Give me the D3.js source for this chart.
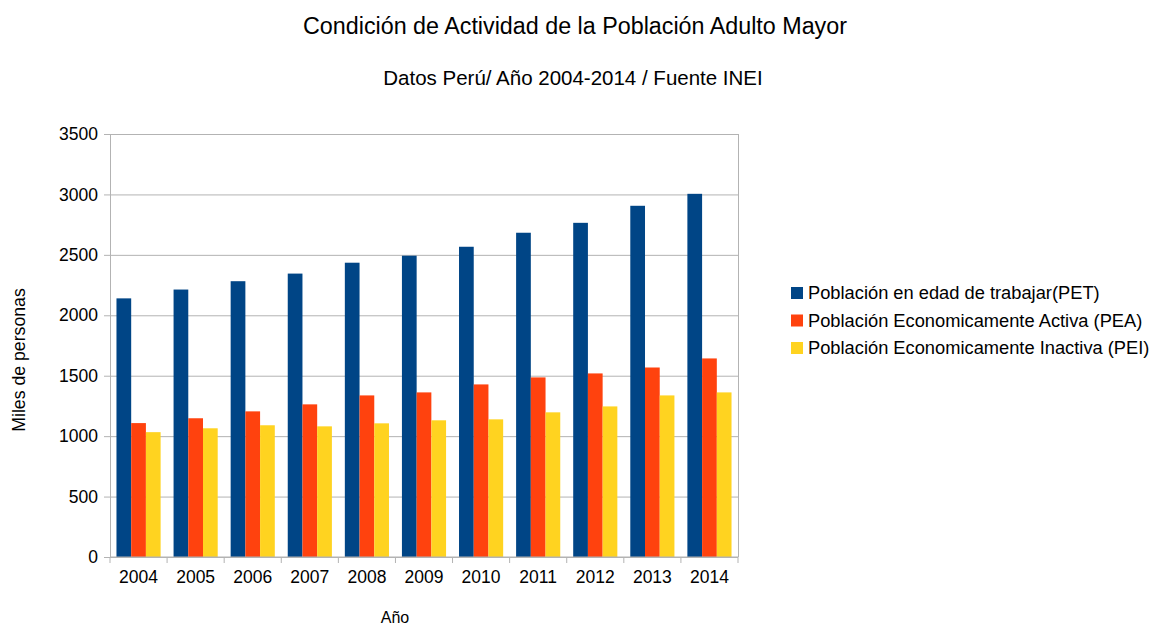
<!DOCTYPE html>
<html>
<head>
<meta charset="utf-8">
<script src="https://cdn.jsdelivr.net/npm/d3@7/dist/d3.min.js"></script>
<style>
  body { margin: 0; background: #fff; }
  text { font-family: "Liberation Sans", Arial, sans-serif; fill: #000; }
  .axis path, .axis line { stroke: #b3b3b3; }
  .grid path { display: none; }
</style>
</head>
<body>
<div id="chart"></div>
<script>
// data
var years = ["2004","2005","2006","2007","2008","2009","2010","2011","2012","2013","2014"];
var seriesNames = ["Población en edad de trabajar(PET)", "Población Economicamente Activa (PEA)", "Población Economicamente Inactiva (PEI)"];
var pet = [2140, 2213, 2282, 2345, 2435, 2493, 2567, 2683, 2765, 2906, 3005];
var pea = [1108, 1148, 1205, 1263, 1337, 1362, 1428, 1486, 1519, 1568, 1643];
var pei = [1033, 1065, 1090, 1081, 1106, 1131, 1139, 1197, 1246, 1337, 1362];
var yTicks = [0, 500, 1000, 1500, 2000, 2500, 3000, 3500];
var colors = ["#004586", "#ff420e", "#ffd320"];

var width = 1151, height = 627;
var margin = {top: 134, left: 110, right: 413, bottom: 70};
var w = width - margin.left - margin.right,
    h = height - margin.top - margin.bottom;

var svg = d3.select("#chart").append("svg")
    .attr("width", width)
    .attr("height", height);

var data = years.map(function(y, i) {
  return {year: y, values: [pet[i], pea[i], pei[i]]};
});

var x = d3.scaleBand().domain(years).range([0, w]).paddingInner(0).paddingOuter(0);
var x1 = d3.scaleBand().domain([0, 1, 2]).range([0, x.bandwidth()]).paddingOuter(0.44).paddingInner(0);
var y = d3.scaleLinear().domain([0, 3500]).range([h, 0]);

var g = svg.append("g").attr("transform", "translate(" + margin.left + "," + margin.top + ")");

//grid
g.append("g")
    .attr("class", "grid")
    .call(d3.axisLeft(y).tickValues(yTicks).tickSize(-w).tickFormat(""))
  .selectAll("line").attr("stroke", "#b3b3b3");

//right border line of plot
g.append("line")
    .attr("x1", w + 0.5).attr("x2", w + 0.5)
    .attr("y1", 0).attr("y2", h)
    .attr("stroke", "#b3b3b3");

//bars
g.selectAll(".year")
    .data(data)
  .enter().append("g")
    .attr("class", "year")
    .attr("transform", function(d) { return "translate(" + x(d.year) + ",0)"; })
  .selectAll("rect")
    .data(function(d) { return d.values; })
  .enter().append("rect")
    .attr("x", function(d, i) { return x1(i); })
    .attr("width", x1.bandwidth())
    .attr("y", function(d) { return y(d); })
    .attr("height", function(d) { return h - y(d); })
    .attr("fill", function(d, i) { return colors[i]; });

//y axis
var yAxis = g.append("g")
    .attr("class", "axis")
    .call(d3.axisLeft(y).tickValues(yTicks).tickFormat(d3.format("d")).tickSize(6).tickPadding(6));
yAxis.selectAll("text").style("font-size", "17.5px");

//x axis
var xTickPos = years.map(function(d) { return x(d); }).concat([w]);
var xAxis = g.append("g")
    .attr("class", "axis")
    .attr("transform", "translate(0," + h + ")")
    .call(d3.axisBottom(x).tickSize(0).tickPadding(14));
xAxis.select(".domain").remove();
xAxis.append("line")
    .attr("x1", 0).attr("x2", w)
    .attr("stroke", "#b3b3b3");
xAxis.selectAll(".sep")
    .data(xTickPos)
  .enter().append("line")
    .attr("class", "sep")
    .attr("x1", function(d) { return d; }).attr("x2", function(d) { return d; })
    .attr("y1", 0).attr("y2", 6)
    .attr("stroke", "#b3b3b3");
xAxis.selectAll("text").style("font-size", "17.5px");

//titles
svg.append("text")
    .attr("x", 575).attr("y", 34)
    .attr("text-anchor", "middle")
    .style("font-size", "23.3px")
    .text("Condición de Actividad de la Población Adulto Mayor");

svg.append("text")
    .attr("x", 573).attr("y", 85)
    .attr("text-anchor", "middle")
    .style("font-size", "20.5px")
    .text("Datos Perú/ Año 2004-2014 / Fuente INEI");

svg.append("text")
    .attr("transform", "translate(25,360) rotate(-90)")
    .attr("text-anchor", "middle")
    .style("font-size", "17.7px")
    .text("Miles de personas");

svg.append("text")
    .attr("x", 395).attr("y", 623)
    .attr("text-anchor", "middle")
    .style("font-size", "16px")
    .text("Año");

//legend
var legend = svg.append("g").attr("transform", "translate(791,287)");
var li = legend.selectAll(".li")
    .data(seriesNames)
  .enter().append("g")
    .attr("class", "li")
    .attr("transform", function(d, i) { return "translate(0," + (i * 27.5) + ")"; });
li.append("rect")
    .attr("width", 12).attr("height", 12)
    .attr("fill", function(d, i) { return colors[i]; });
li.append("text")
    .attr("x", 17).attr("y", 12)
    .style("font-size", "18.3px")
    .text(function(d) { return d; });
</script>
</body>
</html>
